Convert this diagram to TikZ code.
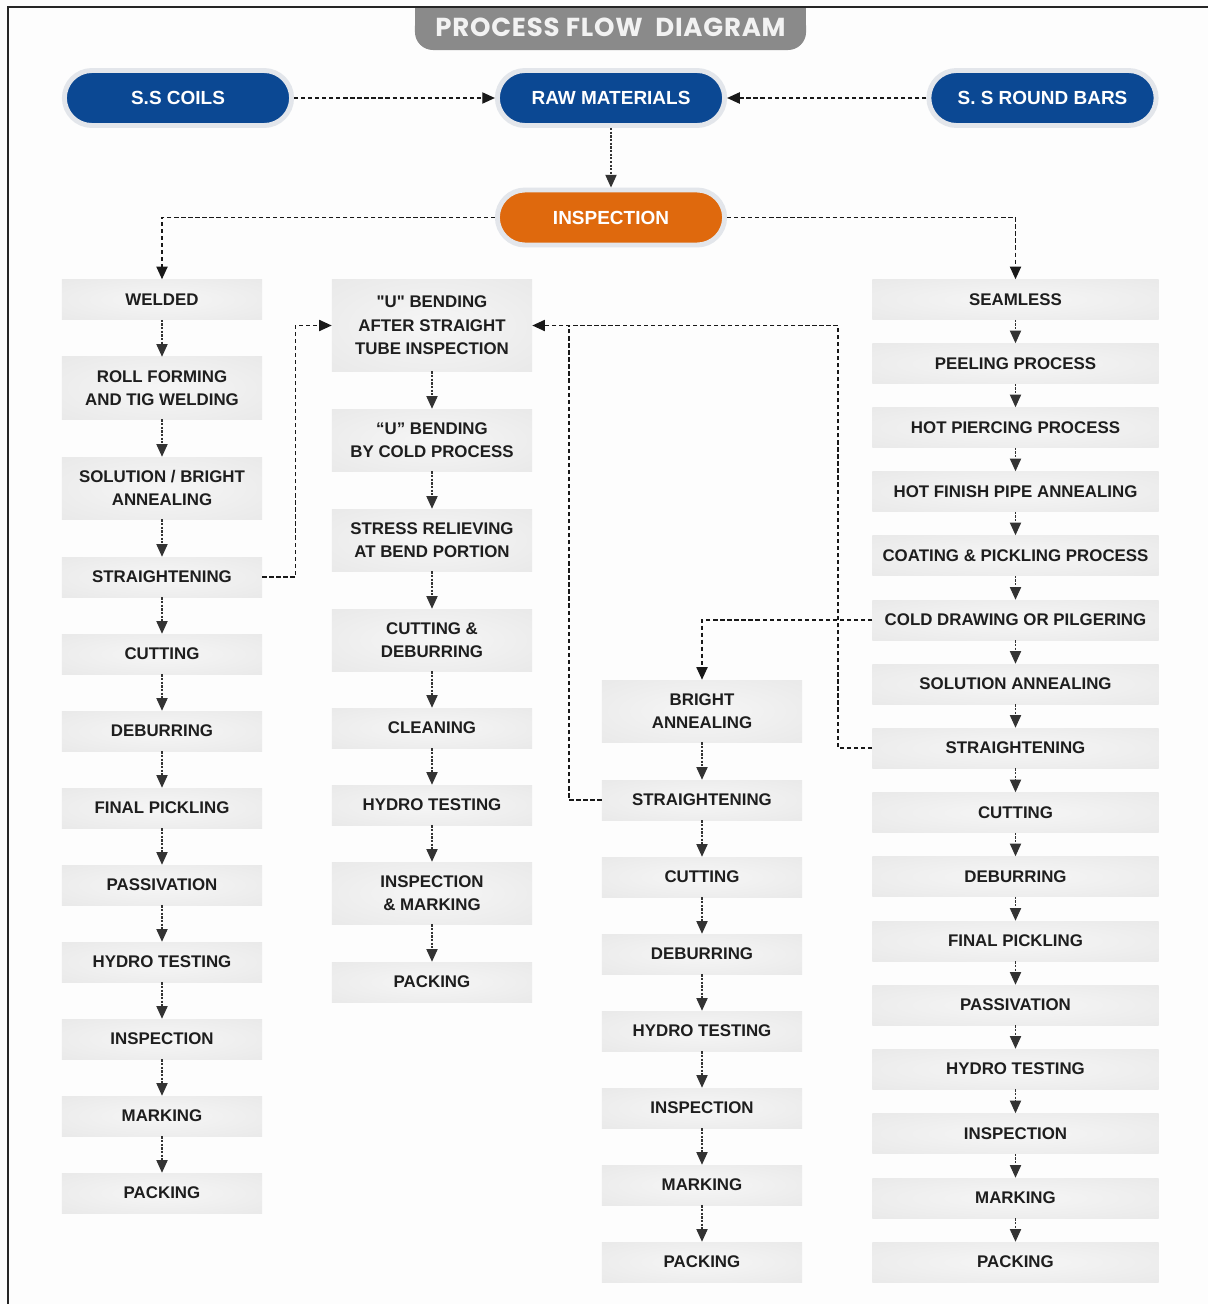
\documentclass[tikz,border=0pt]{standalone}
\usepackage{fontspec}
\setmainfont{Liberation Sans}
\newfontfamily\titlefont{Poppins}[LetterSpace=3]
\usetikzlibrary{arrows.meta}

\definecolor{ssblue}{HTML}{0B4893}
\definecolor{insporange}{HTML}{DF690D}
\definecolor{ringgray}{HTML}{E3E6EB}
\definecolor{tabgray}{HTML}{8A8A8A}
\definecolor{boxin}{HTML}{F6F6F6}
\definecolor{boxout}{HTML}{E4E4E4}
\definecolor{inkgray}{HTML}{1E1E1E}
\definecolor{paper}{HTML}{FDFDFD}
\pgfdeclareradialshading{boxglow}{\pgfpoint{0bp}{0bp}}{color(0bp)=(boxin); color(50bp)=(boxout)}

\tikzset{
  procbox/.style={rectangle, shade, shading=boxglow, minimum width=5cm, minimum height=1cm,
    inner xsep=3pt, inner ysep=0pt, align=center, text=inkgray,
    font=\fontsize{12}{16.8}\selectfont\bfseries},
  tallbox/.style={procbox, minimum height=1.55cm},
  widebox/.style={procbox, minimum width=7.15cm},
  pill/.style={rectangle, rounded corners=0.69cm, fill=ssblue, draw=ringgray, line width=3.5pt,
    minimum width=5.68cm, minimum height=1.375cm, text=white,
    font=\fontsize{13.5}{16}\selectfont\bfseries},
  link/.style={draw=black!90, line width=1pt, dash pattern=on 3pt off 2pt,
    -{Triangle[width=8pt,length=9pt]}},
  stepline/.style={draw=black!80, line width=0.75pt, dash pattern=on 1.6pt off 1pt,
    -{Triangle[width=8pt,length=9pt]}}
}

\begin{document}
\begin{tikzpicture}[x=0.025cm, y=-0.025cm]
      \useasboundingbox (0,0) rectangle (1208,1304);
      \fill[paper] (0,0) rectangle (1208,1304);

      % title tab and frame
      \node[fill=tabgray, rounded corners=0.45cm, minimum width=9.775cm, minimum height=1.05cm] (title) at (610.5,29) {};
      \fill[tabgray] (title.north west) rectangle (title.east);
      \node[text=white!95!black, font=\titlefont\fontsize{18.5}{20}\selectfont\bfseries] (titletext) at (610.5,27) {PROCESS FLOW\ \ DIAGRAM};
      \draw[draw=black!85, line width=1pt] (8,1304) -- (8,7) -- (1208,7);

      % sources
      \node[pill] (coils) at (178,98) {S.S COILS};
      \node[pill] (raw) at (611,98) {RAW MATERIALS};
      \node[pill] (bars) at (1042.5,98) {S. S ROUND BARS};
      \node[pill, fill=insporange] (insp) at (611,217.5) {INSPECTION};

      % welded route
      \node[procbox] (w1) at (162,299.5) {WELDED};
      \node[tallbox] (w2) at (162,388) {ROLL FORMING\\AND TIG WELDING};
      \node[tallbox] (w3) at (162,488) {SOLUTION / BRIGHT\\ANNEALING};
      \node[procbox] (w4) at (162,577) {STRAIGHTENING};
      \node[procbox] (w5) at (162,654) {CUTTING};
      \node[procbox] (w6) at (162,731) {DEBURRING};
      \node[procbox] (w7) at (162,808) {FINAL PICKLING};
      \node[procbox] (w8) at (162,885) {PASSIVATION};
      \node[procbox] (w9) at (162,962) {HYDRO TESTING};
      \node[procbox] (w10) at (162,1039) {INSPECTION};
      \node[procbox] (w11) at (162,1116) {MARKING};
      \node[procbox] (w12) at (162,1193) {PACKING};

      % u bending route
      \node[procbox, minimum height=2.275cm] (u1) at (432,325.5) {\textquotedbl U\textquotedbl{} BENDING\\AFTER STRAIGHT\\TUBE INSPECTION};
      \node[tallbox] (u2) at (432,440) {“U” BENDING\\BY COLD PROCESS};
      \node[tallbox] (u3) at (432,540) {STRESS RELIEVING\\AT BEND PORTION};
      \node[tallbox] (u4) at (432,640) {CUTTING \&\\DEBURRING};
      \node[procbox] (u5) at (432,728) {CLEANING};
      \node[procbox] (u6) at (432,805) {HYDRO TESTING};
      \node[tallbox] (u7) at (432,893) {INSPECTION\\\& MARKING};
      \node[procbox] (u8) at (432,982) {PACKING};

      % bright annealed route
      \node[tallbox] (b1) at (702,711) {BRIGHT\\ANNEALING};
      \node[procbox] (b2) at (702,800) {STRAIGHTENING};
      \node[procbox] (b3) at (702,877) {CUTTING};
      \node[procbox] (b4) at (702,954) {DEBURRING};
      \node[procbox] (b5) at (702,1031) {HYDRO TESTING};
      \node[procbox] (b6) at (702,1108) {INSPECTION};
      \node[procbox] (b7) at (702,1185) {MARKING};
      \node[procbox] (b8) at (702,1262) {PACKING};

      % seamless route
      \node[widebox] (s1) at (1015.5,299.5) {SEAMLESS};
      \node[widebox] (s2) at (1015.5,363.5) {PEELING PROCESS};
      \node[widebox] (s3) at (1015.5,427.5) {HOT PIERCING PROCESS};
      \node[widebox] (s4) at (1015.5,491.5) {HOT FINISH PIPE ANNEALING};
      \node[widebox] (s5) at (1015.5,555.5) {COATING \& PICKLING PROCESS};
      \node[widebox] (s6) at (1015.5,620) {COLD DRAWING OR PILGERING};
      \node[widebox] (s7) at (1015.5,684) {SOLUTION ANNEALING};
      \node[widebox] (s8) at (1015.5,748) {STRAIGHTENING};
      \node[widebox] (s9) at (1015.5,812.5) {CUTTING};
      \node[widebox] (s10) at (1015.5,876.5) {DEBURRING};
      \node[widebox] (s11) at (1015.5,941) {FINAL PICKLING};
      \node[widebox] (s12) at (1015.5,1005) {PASSIVATION};
      \node[widebox] (s13) at (1015.5,1069) {HYDRO TESTING};
      \node[widebox] (s14) at (1015.5,1133.5) {INSPECTION};
      \node[widebox] (s15) at (1015.5,1198) {MARKING};
      \node[widebox] (s16) at (1015.5,1262) {PACKING};

      % top connectors
      \draw[link] (coils) -- (raw);
      \draw[link] (bars) -- (raw);
      \draw[stepline] (raw) -- (insp);
      \draw[link] (insp.west) -| (w1);
      \draw[link] (insp.east) -| (s1);

      % cross connectors
      \coordinate (join) at (569,325.5);
      \draw[link] (w4.east) -- ++(33,0) |- (u1.west);
      \draw[link] (s8.west) -- ++(-34,0) |- (u1.east);
      \draw[link, -] (b2.west) -| (join);
      \draw[link] (s6.west) -| (b1);

      % steps
      \draw[stepline] (w1) -- (w2);
      \draw[stepline] (w2) -- (w3);
      \draw[stepline] (w3) -- (w4);
      \draw[stepline] (w4) -- (w5);
      \draw[stepline] (w5) -- (w6);
      \draw[stepline] (w6) -- (w7);
      \draw[stepline] (w7) -- (w8);
      \draw[stepline] (w8) -- (w9);
      \draw[stepline] (w9) -- (w10);
      \draw[stepline] (w10) -- (w11);
      \draw[stepline] (w11) -- (w12);

      \draw[stepline] (u1) -- (u2);
      \draw[stepline] (u2) -- (u3);
      \draw[stepline] (u3) -- (u4);
      \draw[stepline] (u4) -- (u5);
      \draw[stepline] (u5) -- (u6);
      \draw[stepline] (u6) -- (u7);
      \draw[stepline] (u7) -- (u8);

      \draw[stepline] (b1) -- (b2);
      \draw[stepline] (b2) -- (b3);
      \draw[stepline] (b3) -- (b4);
      \draw[stepline] (b4) -- (b5);
      \draw[stepline] (b5) -- (b6);
      \draw[stepline] (b6) -- (b7);
      \draw[stepline] (b7) -- (b8);

      \draw[stepline] (s1) -- (s2);
      \draw[stepline] (s2) -- (s3);
      \draw[stepline] (s3) -- (s4);
      \draw[stepline] (s4) -- (s5);
      \draw[stepline] (s5) -- (s6);
      \draw[stepline] (s6) -- (s7);
      \draw[stepline] (s7) -- (s8);
      \draw[stepline] (s8) -- (s9);
      \draw[stepline] (s9) -- (s10);
      \draw[stepline] (s10) -- (s11);
      \draw[stepline] (s11) -- (s12);
      \draw[stepline] (s12) -- (s13);
      \draw[stepline] (s13) -- (s14);
      \draw[stepline] (s14) -- (s15);
      \draw[stepline] (s15) -- (s16);
    \end{tikzpicture}
\end{document}
